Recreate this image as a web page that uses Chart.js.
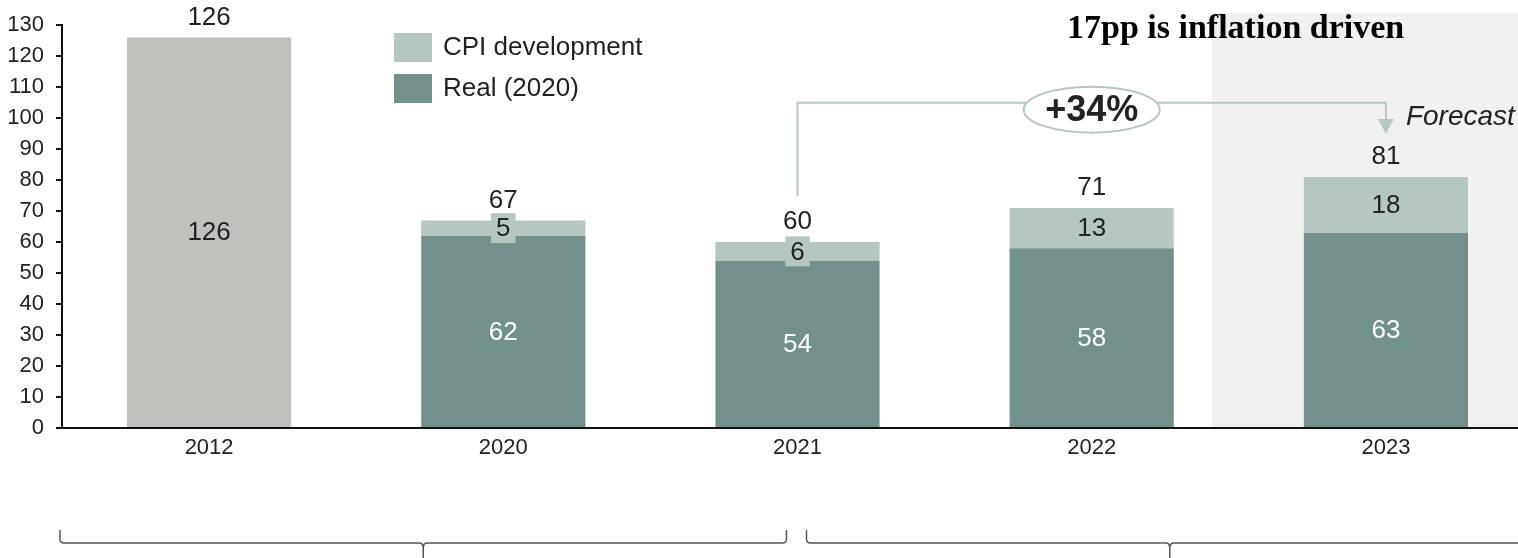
<!DOCTYPE html>
<html>
<head>
<meta charset="utf-8">
<script src="https://cdn.jsdelivr.net/npm/chart.js@4/dist/chart.umd.min.js"></script>
<style>
  html, body { margin: 0; padding: 0; overflow: hidden; background: #fff; }
  #wrap { position: absolute; left: 0; top: 0; width: 1536px; height: 558px; }
</style>
</head>
<body>
<div id="wrap"><canvas id="costChart"></canvas></div>
<script>
// ========= Data =========
const years = ["2012", "2020", "2021", "2022", "2023"];
const nominal2012 = [126, null, null, null, null];
const realValues = [null, 62, 54, 58, 63];
const cpiValues = [null, 5, 6, 13, 18];
const yMax = 130;
const yStep = 10;
const growthLabel = "+34%";
const inflationNote = "17pp is inflation driven";
const forecastLabel = "Forecast";
const forecastIndex = 4;

const totals = years.map((_, i) => (nominal2012[i] || 0) + (realValues[i] || 0) + (cpiValues[i] || 0));

// ========= Colours / fonts =========
const GREY = "#c1c0bc";
const CPI = "#b6c6c1";
const REAL = "#73908d";
const SHADE = "#f1f1f0";
const TEXT = "#222222";
const SANS = "'Liberation Sans', Arial, sans-serif";

// ========= Plugins =========
// light panel behind the forecast year
const forecastShade = {
    id: "forecastShade",
    beforeDraw(chart) {
        const { ctx, chartArea, scales } = chart;
        const step = scales.x.getPixelForValue(1) - scales.x.getPixelForValue(0);
        const left = scales.x.getPixelForValue(forecastIndex) - step * 0.592;
        ctx.save();
        ctx.fillStyle = SHADE;
        ctx.fillRect(left, 13, chart.width - left, chartArea.bottom - 13);
        ctx.restore();
    },
};

// value labels on the segments and totals above the bars
const barLabels = {
    id: "barLabels",
    afterDatasetsDraw(chart) {
        const { ctx } = chart;
        ctx.save();
        ctx.textAlign = "center";
        ctx.textBaseline = "middle";
        ctx.font = "26px " + SANS;

        chart.data.datasets.forEach((ds, di) => {
            const meta = chart.getDatasetMeta(di);
            meta.data.forEach((bar, i) => {
                const v = ds.data[i];
                if (v == null) return;
                const cy = (bar.y + bar.base) / 2;
                if (ds.key === "cpi") {
                    const w = ctx.measureText(String(v)).width + 10;
                    ctx.fillStyle = CPI;
                    ctx.fillRect(bar.x - w / 2, cy - 15, w, 30);
                    ctx.fillStyle = TEXT;
                } else if (ds.key === "real") {
                    ctx.fillStyle = "#ffffff";
                } else {
                    ctx.fillStyle = TEXT;
                }
                ctx.fillText(String(v), bar.x, cy + 1);
            });
        });

        // totals
        const ys = chart.scales.y;
        const xs = chart.scales.x;
        ctx.fillStyle = TEXT;
        totals.forEach((t, i) => {
            ctx.fillText(String(t), xs.getPixelForValue(i), ys.getPixelForValue(t) - 20);
        });
        ctx.restore();
    },
};

// legend, growth connector, notes and brackets
const annotations = {
    id: "annotations",
    afterDraw(chart) {
        const { ctx, chartArea } = chart;
        const xs = chart.scales.x;
        const ys = chart.scales.y;
        ctx.save();

        // legend
        const legendRows = [["CPI development", CPI, 33], ["Real (2020)", REAL, 74]];
        ctx.font = "26px " + SANS;
        ctx.textAlign = "left";
        ctx.textBaseline = "middle";
        legendRows.forEach(([label, color, top]) => {
            ctx.fillStyle = color;
            ctx.fillRect(394, top, 38, 29);
            ctx.fillStyle = TEXT;
            ctx.fillText(label, 443, top + 15);
        });

        // growth connector 2021 -> 2023
        const xa = xs.getPixelForValue(2);
        const xb = xs.getPixelForValue(4);
        const xm = xs.getPixelForValue(3);
        const yLine = ys.getPixelForValue(105);
        const yStart = ys.getPixelForValue(totals[2]) - 46;
        const yTip = ys.getPixelForValue(totals[4]) - 43;
        ctx.strokeStyle = CPI;
        ctx.lineWidth = 2;
        ctx.beginPath();
        ctx.moveTo(xa, yStart);
        ctx.lineTo(xa, yLine);
        ctx.lineTo(xb, yLine);
        ctx.lineTo(xb, yTip - 14);
        ctx.stroke();
        ctx.fillStyle = CPI;
        ctx.beginPath();
        ctx.moveTo(xb - 8, yTip - 15);
        ctx.lineTo(xb + 8, yTip - 15);
        ctx.lineTo(xb, yTip);
        ctx.closePath();
        ctx.fill();

        // ellipse with growth figure
        ctx.beginPath();
        ctx.ellipse(xm, yLine + 7, 68, 23, 0, 0, Math.PI * 2);
        ctx.fillStyle = "#ffffff";
        ctx.fill();
        ctx.strokeStyle = CPI;
        ctx.stroke();
        ctx.fillStyle = TEXT;
        ctx.textAlign = "center";
        ctx.font = "bold 36px " + SANS;
        ctx.fillText(growthLabel, xm, yLine + 8);

        // forecast tag
        ctx.textAlign = "left";
        ctx.font = "italic 28px " + SANS;
        ctx.fillText(forecastLabel, xb + 20, yLine + 15);

        // inflation note
        ctx.fillStyle = "#000000";
        ctx.textBaseline = "alphabetic";
        ctx.font = "bold 34px 'Liberation Serif', 'Times New Roman', serif";
        ctx.fillText(inflationNote, 1067, 38);

        // brackets under the axis
        const bY = 543, hookTop = 530, tickEnd = 560;
        const drawBracket = (l, r) => {
            const m = (l + r) / 2;
            ctx.beginPath();
            ctx.moveTo(l, hookTop);
            ctx.lineTo(l, bY - 4);
            ctx.quadraticCurveTo(l, bY, l + 4, bY);
            ctx.lineTo(m - 4, bY);
            ctx.quadraticCurveTo(m, bY, m, bY + 5);
            ctx.lineTo(m, tickEnd);
            ctx.moveTo(m, bY + 5);
            ctx.quadraticCurveTo(m, bY, m + 4, bY);
            ctx.lineTo(r - 4, bY);
            ctx.quadraticCurveTo(r, bY, r, bY - 4);
            ctx.lineTo(r, hookTop);
            ctx.stroke();
        };
        ctx.strokeStyle = "#555555";
        ctx.lineWidth = 1.5;
        drawBracket(chartArea.left - 2, xa - 11);
        drawBracket(xa + 9, chartArea.right);

        ctx.restore();
    },
};

// ========= Chart =========
new Chart(document.getElementById("costChart"), {
    type: "bar",
    data: {
        labels: years,
        datasets: [
            { key: "nominal", label: "2012", data: nominal2012, backgroundColor: GREY },
            { key: "real", label: "Real (2020)", data: realValues, backgroundColor: REAL },
            { key: "cpi", label: "CPI development", data: cpiValues, backgroundColor: CPI },
        ],
    },
    options: {
        responsive: true,
        maintainAspectRatio: false,
        animation: false,
        events: [],
        datasets: {
            bar: { barPercentage: 0.558, categoryPercentage: 1, borderWidth: 0 },
        },
        layout: { padding: { top: 23, right: 3, bottom: 0, left: 0 } },
        plugins: {
            legend: { display: false },
            tooltip: { enabled: false },
        },
        scales: {
            x: {
                stacked: true,
                grid: { display: false, drawTicks: false },
                border: { display: true, color: "#111111", width: 2 },
                ticks: { color: TEXT, padding: 7, font: { family: SANS, size: 22 } },
                afterFit(scale) { scale.height = 130; },
            },
            y: {
                stacked: true,
                min: 0,
                max: yMax,
                grid: { display: true, drawOnChartArea: false, drawTicks: true, tickLength: 6, color: "#111111", lineWidth: 2 },
                border: { display: true, color: "#111111", width: 2 },
                ticks: { stepSize: yStep, color: TEXT, padding: 12, font: { family: SANS, size: 22 } },
                afterFit(scale) { scale.width = 62; },
            },
        },
    },
    plugins: [forecastShade, barLabels, annotations],
});
</script>
</body>
</html>
